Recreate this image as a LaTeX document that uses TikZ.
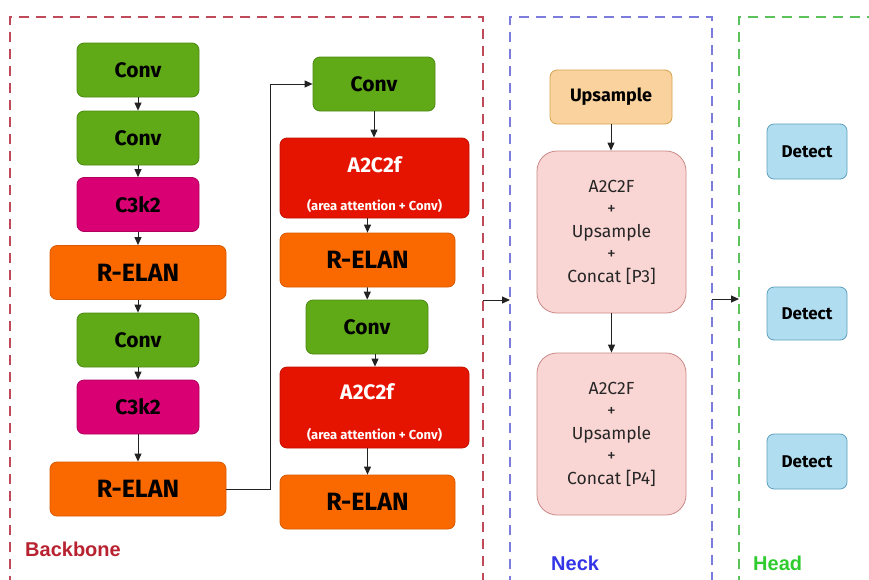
\documentclass[tikz,border=0pt]{standalone}
\usepackage{fontspec}
\setmainfont{Fira Sans}
\newfontfamily\labfont{Liberation Sans}
\usetikzlibrary{arrows.meta}
\definecolor{convg}{HTML}{60A917}
\definecolor{convb}{HTML}{4D8A12}
\definecolor{c3k}{HTML}{D80073}
\definecolor{c3kb}{HTML}{B0005E}
\definecolor{relan}{HTML}{FA6800}
\definecolor{relanb}{HTML}{D95A00}
\definecolor{a2c}{HTML}{E51400}
\definecolor{a2cb}{HTML}{C21000}
\definecolor{upf}{HTML}{FAD29E}
\definecolor{upb}{HTML}{D6A24E}
\definecolor{nkf}{HTML}{F9D6D4}
\definecolor{nkb}{HTML}{C98A88}
\definecolor{detf}{HTML}{B1DDF0}
\definecolor{detb}{HTML}{5E9FBF}
\definecolor{bbred}{HTML}{B82230}
\definecolor{frred}{HTML}{C04A5A}
\definecolor{frblue}{HTML}{7C7CDC}
\definecolor{frgreen}{HTML}{5CC35C}
\definecolor{nkblue}{HTML}{3535E8}
\definecolor{hdgreen}{HTML}{2FCB2F}
\definecolor{arrc}{HTML}{222222}
\tikzset{
  blk/.style={rectangle, rounded corners=7pt, line width=0.8pt, inner sep=0pt, align=center},
  convbox/.style={blk, fill=convg, draw=convb, minimum width=122pt, minimum height=54pt, font=\fontsize{21}{22}\selectfont\bfseries},
  c3box/.style={blk, fill=c3k, draw=c3kb, minimum width=122pt, minimum height=54pt, font=\fontsize{21}{22}\selectfont\bfseries},
  relanbox/.style={blk, fill=relan, draw=relanb, minimum height=54pt, font=\fontsize{25}{26}\selectfont\bfseries},
  a2box/.style={blk, fill=a2c, draw=a2cb, minimum width=189pt, minimum height=80pt},
  a2title/.style={inner sep=0pt, text=white, font=\fontsize{21}{22}\selectfont\bfseries},
  a2sub/.style={inner sep=0pt, text=white, font=\fontsize{13}{14}\selectfont\bfseries},
  upbox/.style={blk, fill=upf, draw=upb, minimum width=122pt, minimum height=54pt, font=\fontsize{18}{20}\selectfont\bfseries},
  nkbox/.style={blk, rounded corners=20pt, fill=nkf, draw=nkb, minimum width=149pt, minimum height=162pt, font=\fontsize{17.5}{22.5}\selectfont, text=black!85},
  detbox/.style={blk, fill=detf, draw=detb, minimum width=80pt, minimum height=54pt, font=\fontsize{17}{18}\selectfont\bfseries},
  arr/.style={draw=arrc, line width=1pt, -{Triangle[length=8pt,width=7pt]}},
  frame/.style={line width=1.4pt, dash pattern=on 10pt off 7pt},
  sect/.style={font=\labfont\fontsize{20}{22}\selectfont\bfseries, anchor=west, inner sep=0pt}
}
\begin{document}
\begin{tikzpicture}[x=1pt,y=-1pt]
\useasboundingbox (0,0) rectangle (869,579);
\begin{scope}
\clip (0,0) rectangle (869,579);
\draw[frame, draw=frred] (10,620) -- (10,17) -- (483,17) -- (483,620);
\draw[frame, draw=frblue] (510,620) -- (510,17) -- (712,17) -- (712,620);
\draw[frame, draw=frgreen] (739,620) -- (739,17) -- (900,17);
\end{scope}

% Backbone column 1
\node[convbox] (c1) at (138,70) {Conv};
\node[convbox] (c2) at (138,138) {Conv};
\node[c3box] (k1) at (138,204.5) {C3k2};
\node[relanbox, minimum width=176pt] (r1) at (138,272.5) {R-ELAN};
\node[convbox] (c3) at (138,340) {Conv};
\node[c3box] (k2) at (138,407) {C3k2};
\node[relanbox, minimum width=176pt] (r2) at (138,489) {R-ELAN};

% Backbone column 2
\node[convbox] (d1) at (374,84) {Conv};
\node[a2box] (a1) at (374.5,178) {};
\node[a2title] (a1t) at (374.5,165) {A2C2f};
\node[a2sub] (a1s) at (374.5,206) {(area attention + Conv)};
\node[relanbox, minimum width=175pt] (r3) at (367.5,260) {R-ELAN};
\node[convbox] (d2) at (367,327) {Conv};
\node[a2box, minimum height=81pt] (a2) at (374.5,407.5) {};
\node[a2title] (a2t) at (367,392) {A2C2f};
\node[a2sub] (a2s) at (374.5,435) {(area attention + Conv)};
\node[relanbox, minimum width=175pt] (r4) at (367.5,502) {R-ELAN};

% Neck
\node[upbox] (up) at (611,97) {Upsample};
\node[nkbox] (n1) at (611.5,232) {A2C2F\\+\\Upsample\\+\\Concat [P3]};
\node[nkbox] (n2) at (611.5,434) {A2C2F\\+\\Upsample\\+\\Concat [P4]};

% Head
\node[detbox, minimum height=55pt] (h1) at (807,151.5) {Detect};
\node[detbox, minimum height=53pt] (h2) at (807,313.5) {Detect};
\node[detbox, minimum height=55pt] (h3) at (807,461.5) {Detect};

% section labels
\node[sect, text=bbred] (lb) at (25,549) {Backbone};
\node[sect, text=nkblue] (ln) at (551,563) {Neck};
\node[sect, text=hdgreen] (lh) at (753,563) {Head};

% arrows column 1
\draw[arr] (c1) -- (c2);
\draw[arr] (c2) -- (k1);
\draw[arr] (k1) -- (r1);
\draw[arr] (r1) -- (c3);
\draw[arr] (c3) -- (k2);
\draw[arr] (k2) -- (r2);
\draw[arr] (r2.east) -- ++(44,0) |- (d1.west);
% arrows column 2
\draw[arr] (d1) -- (a1.north -| d1);
\draw[arr] (a1.south -| r3) -- (r3);
\draw[arr] (r3) -- (d2);
\coordinate (d2s) at ([xshift=8pt]d2.south);
\draw[arr] (d2s) -- (a2.north -| d2s);
\draw[arr] (a2.south -| r4) -- (r4);
% neck
\draw[arr] (up) -- (n1.north -| up);
\draw[arr] (n1) -- (n2);
% between sections
\coordinate (bbR) at (483,300);
\coordinate (nkL) at (510,300);
\coordinate (nkR) at (712,299);
\coordinate (hdL) at (739,299);
\draw[arr] (bbR) -- (nkL);
\draw[arr] (nkR) -- (hdL);
\end{tikzpicture}
\end{document}
